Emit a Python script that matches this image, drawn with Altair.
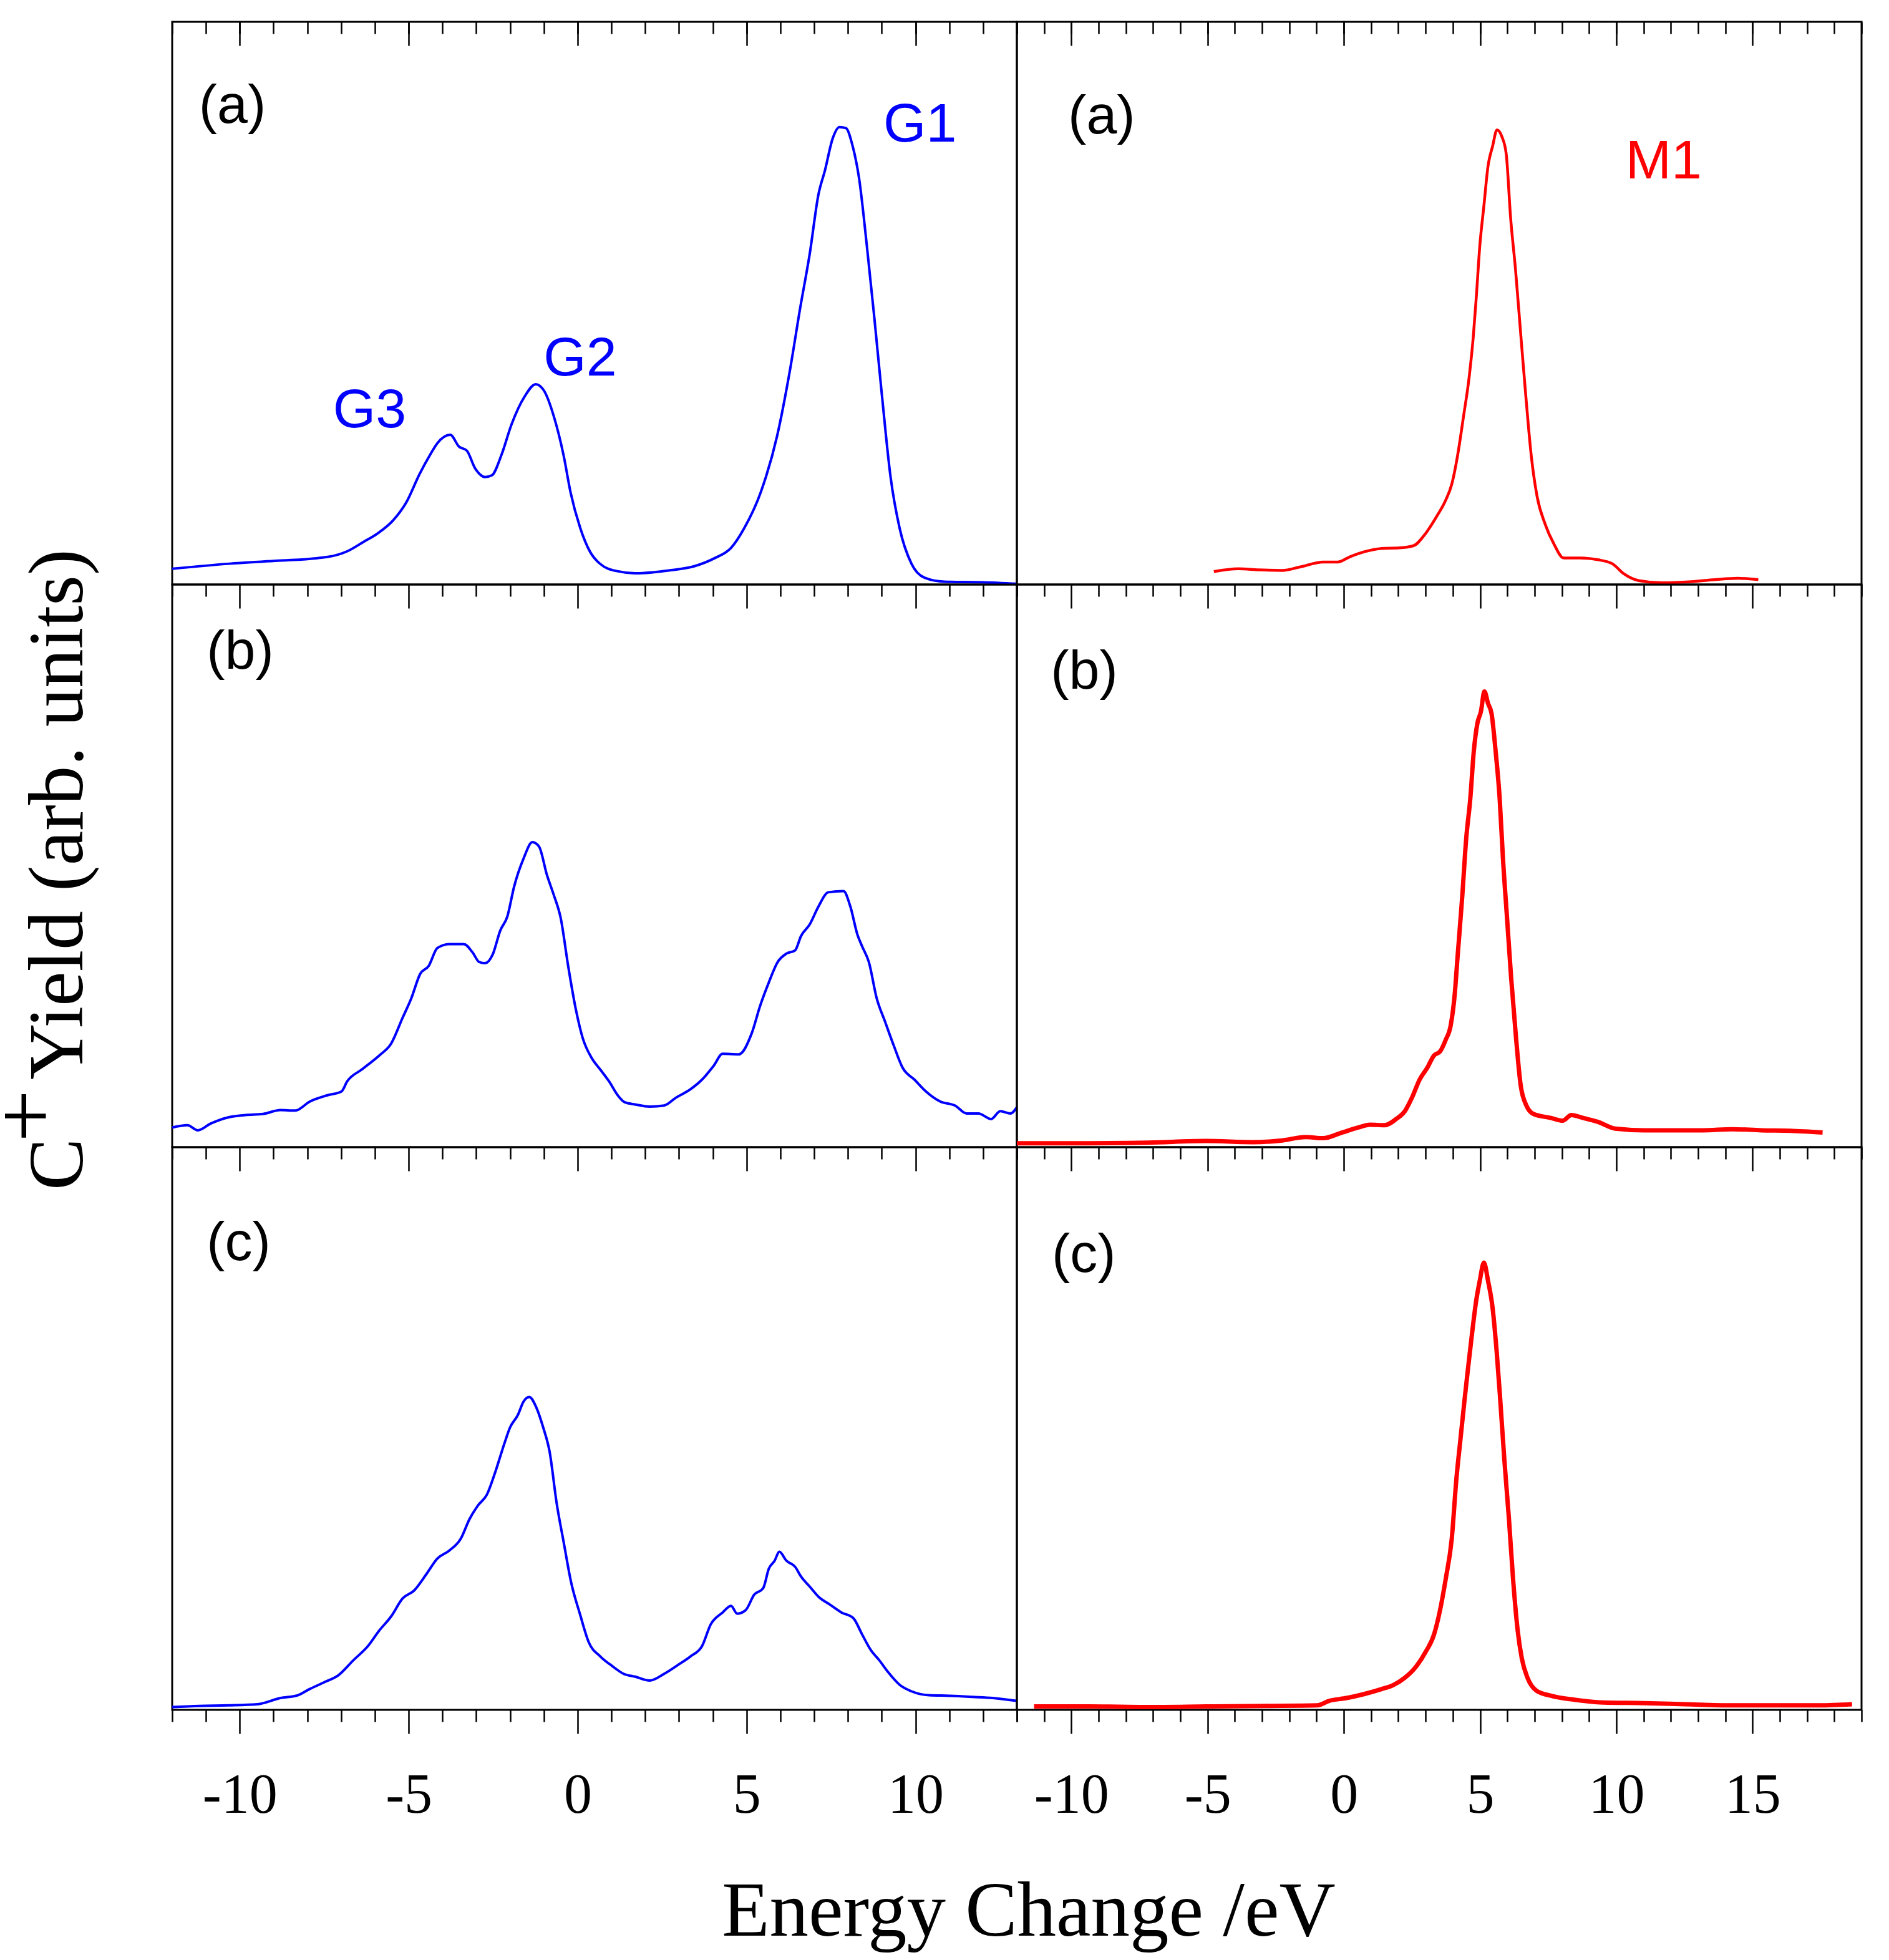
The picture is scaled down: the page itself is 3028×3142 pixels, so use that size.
import altair as alt
import pandas as pd

LEFT_DOMAIN = [-12, 13]
RIGHT_DOMAIN = [-12, 19]
W, H = 1354, 902
BLUE = "#0000FF"
RED = "#FF0000"

# ---- left column (blue) ----
LA_X = [-12.0, -10.3, -8.95, -7.4, -6.82, -6.33, -5.94, -5.46, -5.07, -4.68, -4.39, -4.14, -3.77, -3.51,
        -3.28, -3.03, -2.74, -2.54, -2.25, -1.96, -1.57, -1.24, -0.99, -0.70, -0.41, -0.21, 0.08, 0.37,
        0.66, 1.15, 1.73, 2.70, 3.48, 4.06, 4.54, 4.93, 5.42, 5.90, 6.29, 6.58, 6.87, 7.13, 7.32, 7.55,
        7.75, 7.94, 8.14, 8.33, 8.56, 8.78, 9.01, 9.26, 9.53, 9.88, 10.27, 10.85, 12.0, 13.0]
LA_Y = [0.028, 0.037, 0.042, 0.049, 0.059, 0.076, 0.090, 0.114, 0.146, 0.196, 0.228, 0.252, 0.266, 0.245,
        0.238, 0.206, 0.191, 0.194, 0.231, 0.284, 0.334, 0.356, 0.344, 0.298, 0.228, 0.164, 0.100, 0.058,
        0.037, 0.024, 0.020, 0.025, 0.033, 0.047, 0.065, 0.100, 0.164, 0.263, 0.383, 0.489, 0.588, 0.694,
        0.736, 0.793, 0.813, 0.811, 0.779, 0.722, 0.602, 0.475, 0.334, 0.192, 0.100, 0.037, 0.012, 0.005,
        0.004, 0.0014]

LB_X = [-12.0, -11.55, -11.24, -10.86, -10.34, -9.83, -9.31, -8.8, -8.36, -7.93, -7.42, -6.99, -6.82,
        -6.39, -5.87, -5.52, -5.18, -4.92, -4.66, -4.41, -4.15, -3.8, -3.37, -3.12, -2.91, -2.74, -2.51,
        -2.29, -2.08, -1.88, -1.6, -1.34, -1.14, -0.91, -0.71, -0.5, -0.28, -0.05, 0.15, 0.41, 0.67, 0.93,
        1.19, 1.39, 1.7, 2.13, 2.56, 2.91, 3.34, 3.68, 4.03, 4.29, 4.77, 5.15, 5.40, 5.66, 5.92, 6.18, 6.44,
        6.61, 6.87, 7.13, 7.42, 7.87, 8.07, 8.28, 8.42, 8.62, 8.85, 9.1, 9.36, 9.62, 9.97, 10.31, 10.74,
        11.17, 11.51, 11.86, 12.24, 12.51, 12.81, 13.0]
LB_Y = [0.035, 0.039, 0.030, 0.042, 0.053, 0.057, 0.059, 0.066, 0.065, 0.081, 0.092, 0.099, 0.117,
        0.138, 0.163, 0.184, 0.230, 0.265, 0.308, 0.322, 0.354, 0.361, 0.361, 0.347, 0.329, 0.327, 0.343,
        0.385, 0.410, 0.463, 0.513, 0.542, 0.534, 0.484, 0.449, 0.407, 0.322, 0.244, 0.194, 0.159, 0.138,
        0.117, 0.092, 0.080, 0.076, 0.072, 0.074, 0.088, 0.103, 0.120, 0.145, 0.166, 0.165, 0.202, 0.251,
        0.293, 0.329, 0.344, 0.350, 0.375, 0.396, 0.428, 0.453, 0.455, 0.428, 0.378, 0.357, 0.329, 0.265,
        0.223, 0.180, 0.141, 0.120, 0.099, 0.081, 0.074, 0.060, 0.060, 0.050, 0.064, 0.060, 0.071]

LC_X = [-12.0, -11.2, -10.34, -9.48, -8.8, -8.28, -7.93, -7.5, -7.07, -6.64, -6.21, -5.87, -5.52, -5.18,
        -4.84, -4.49, -4.15, -3.8, -3.46, -3.2, -2.94, -2.69, -2.43, -2.17, -2.0, -1.77, -1.6, -1.43, -1.22,
        -1.02, -0.83, -0.62, -0.41, -0.19, 0.07, 0.33, 0.67, 1.02, 1.36, 1.7, 2.13, 2.56, 3.0, 3.34, 3.68,
        3.94, 4.29, 4.54, 4.72, 4.97, 5.23, 5.49, 5.66, 5.83, 5.97, 6.18, 6.44, 6.61, 6.87, 7.13, 7.47,
        7.81, 8.16, 8.42, 8.68, 8.93, 9.19, 9.54, 9.88, 10.4, 11.0, 11.69, 12.29, 12.98]
LC_Y = [0.005, 0.007, 0.008, 0.010, 0.021, 0.026, 0.037, 0.049, 0.062, 0.088, 0.113, 0.141, 0.166, 0.198,
        0.212, 0.240, 0.269, 0.283, 0.304, 0.339, 0.364, 0.382, 0.424, 0.473, 0.502, 0.524, 0.548, 0.556,
        0.537, 0.502, 0.459, 0.367, 0.297, 0.226, 0.170, 0.120, 0.095, 0.078, 0.064, 0.059, 0.052, 0.064,
        0.081, 0.095, 0.113, 0.152, 0.173, 0.185, 0.171, 0.177, 0.205, 0.216, 0.251, 0.265, 0.281, 0.265,
        0.254, 0.237, 0.219, 0.201, 0.187, 0.173, 0.163, 0.134, 0.106, 0.088, 0.067, 0.044, 0.033, 0.026,
        0.025, 0.023, 0.021, 0.016]

# ---- right column (red) ----
RA_X = [-4.77, -3.87, -3.12, -2.26, -1.62, -0.76, -0.22, 0.21, 0.74, 1.39, 2.03, 2.56, 2.99, 3.42, 3.74,
        3.96, 4.17, 4.39, 4.6, 4.75, 4.86, 4.99, 5.14, 5.29, 5.46, 5.62, 5.8, 5.96, 6.12, 6.3, 6.5, 6.68,
        6.88, 7.09, 7.39, 7.71, 8.07, 8.68, 9.32, 9.85, 10.28, 10.82, 11.68, 12.75, 13.6, 14.46, 15.21]
RA_Y = [0.023, 0.028, 0.026, 0.025, 0.031, 0.040, 0.040, 0.049, 0.058, 0.064, 0.065, 0.069, 0.090, 0.122,
        0.150, 0.178, 0.228, 0.298, 0.369, 0.440, 0.510, 0.602, 0.673, 0.743, 0.779, 0.808, 0.796, 0.765,
        0.652, 0.560, 0.440, 0.334, 0.228, 0.157, 0.107, 0.072, 0.047, 0.047, 0.044, 0.037, 0.019, 0.007,
        0.003, 0.005, 0.0085, 0.011, 0.0085]

RB_X = [-12.0, -9.34, -7.19, -5.05, -3.33, -2.26, -1.4, -0.76, -0.12, 0.53, 0.96, 1.49, 1.92, 2.24, 2.5,
        2.78, 3.06, 3.31, 3.53, 3.74, 3.92, 4.07, 4.17, 4.34, 4.49, 4.64, 4.77, 4.9, 5.03, 5.16, 5.29, 5.42,
        5.57, 5.72, 5.84, 5.99, 6.14, 6.32, 6.49, 6.7, 6.96, 7.6, 8.03, 8.35, 8.78, 9.32, 9.96, 11.03,
        12.11, 13.18, 14.25, 15.32, 16.39, 17.57]
RB_Y = [0.007, 0.007, 0.008, 0.011, 0.009, 0.012, 0.018, 0.016, 0.025, 0.035, 0.040, 0.039, 0.050, 0.064,
        0.088, 0.120, 0.141, 0.163, 0.170, 0.191, 0.216, 0.272, 0.336, 0.442, 0.548, 0.619, 0.704, 0.753,
        0.774, 0.810, 0.789, 0.771, 0.704, 0.619, 0.513, 0.407, 0.301, 0.194, 0.110, 0.074, 0.059, 0.052,
        0.047, 0.057, 0.052, 0.045, 0.033, 0.030, 0.030, 0.030, 0.032, 0.030, 0.029, 0.026]

RC_X = [-11.37, -9.34, -7.19, -5.05, -2.9, -0.97, -0.54, 0.1, 0.74, 1.39, 1.81, 2.24, 2.67, 2.99, 3.31,
        3.53, 3.74, 3.96, 4.13, 4.28, 4.43, 4.56, 4.71, 4.86, 4.99, 5.14, 5.29, 5.46, 5.61, 5.74, 5.89,
        6.06, 6.21, 6.38, 6.53, 6.74, 7.07, 7.6, 8.46, 9.53, 11.03, 12.53, 14.25, 15.96, 17.47, 18.65]
RC_Y = [0.006, 0.006, 0.005, 0.006, 0.007, 0.008, 0.016, 0.021, 0.028, 0.037, 0.044, 0.057, 0.078, 0.102,
        0.134, 0.177, 0.233, 0.304, 0.410, 0.481, 0.551, 0.608, 0.671, 0.728, 0.763, 0.795, 0.763, 0.714,
        0.636, 0.551, 0.445, 0.339, 0.233, 0.141, 0.092, 0.057, 0.034, 0.025, 0.018, 0.013, 0.012, 0.010,
        0.008, 0.008, 0.008, 0.010]

# ---- annotations (data coordinates) ----
G_TEXT = ["G1", "G2", "G3"]
G_X = [9.05, -1.01, -7.24]
G_Y = [0.787, 0.371, 0.279]
M_TEXT = ["M1"]
M_X = [10.34]
M_Y = [0.722]
TAG_LEFT = {"a": (-11.21, 0.820), "b": (-10.98, 0.850), "c": (-10.98, 0.799)}
TAG_RIGHT = {"a": (-10.12, 0.802), "b": (-10.76, 0.815), "c": (-10.72, 0.778)}

Y_TITLE_MAIN = "Yield (arb. units)"
Y_TITLE_C = "C"
Y_TITLE_SUP = "+"
X_TITLE = "Energy Change /eV"

SERIF = "Liberation Serif"
SANS = "Liberation Sans"
TICK_COND = {"condition": {"test": "datum.value % 5 === 0", "value": 38}, "value": 19}
YS = alt.Scale(domain=[0, 1], nice=False, zero=False)


def xscale(dom):
    return alt.Scale(domain=dom, nice=False, zero=False)


def ints(dom):
    return list(range(dom[0], dom[1] + 1))


def fives(dom):
    return [v for v in ints(dom) if v % 5 == 0]


def bottom_axis(dom, labels):
    kw = dict(orient="bottom", values=ints(dom), tickSize=TICK_COND, domain=False, grid=False,
              title=None, labels=labels)
    if labels:
        kw.update(labelExpr="datum.value % 5 === 0 ? '' + datum.value : ''", labelFont=SERIF,
                  labelFontSize=90, labelPadding=55, labelColor="black", labelOverlap=False,
                  labelFlush=False)
    return alt.Axis(**kw)


def top_axis(vals, size):
    return alt.Axis(orient="top", values=vals, tickSize=size, offset=-size, domain=False, grid=False,
                    labels=False, title=None)


def line_layer(xs, ys, dom, color, sw, axis):
    df = pd.DataFrame({"x": xs, "y": ys})
    return alt.Chart(df).mark_line(color=color, strokeWidth=sw, interpolate="monotone").encode(
        x=alt.X("x:Q", scale=xscale(dom), axis=axis),
        y=alt.Y("y:Q", scale=YS, axis=None),
    )


def text_layer(xs, ys, texts, dom, color, axis):
    df = pd.DataFrame({"x": xs, "y": ys, "t": texts})
    return alt.Chart(df).mark_text(font=SANS, fontSize=88, align="left", baseline="alphabetic",
                                   color=color).encode(
        x=alt.X("x:Q", scale=xscale(dom), axis=axis),
        y=alt.Y("y:Q", scale=YS, axis=None),
        text="t:N",
    )


def pixel_text(text, px, py, angle=0, align="left", baseline="alphabetic", size=125):
    df = pd.DataFrame({"t": [text]})
    kw = dict(font=SERIF, fontSize=size, align=align, baseline=baseline, color="black")
    if angle:
        kw["angle"] = angle
    return alt.Chart(df).mark_text(**kw).encode(x=alt.value(px), y=alt.value(py), text="t:N")


def tag(key, pos, dom, axis):
    return text_layer([pos[key][0]], [pos[key][1]], ["(%s)" % key], dom, "black", axis)


# Row a
la = alt.layer(
    line_layer(LA_X, LA_Y, LEFT_DOMAIN, BLUE, 4, bottom_axis(LEFT_DOMAIN, False)),
    tag("a", TAG_LEFT, LEFT_DOMAIN, top_axis(fives(LEFT_DOMAIN), 38)),
    text_layer(G_X, G_Y, G_TEXT, LEFT_DOMAIN, BLUE, top_axis(ints(LEFT_DOMAIN), 19)),
).resolve_axis(x="independent").properties(width=W, height=H)

ra = alt.layer(
    line_layer(RA_X, RA_Y, RIGHT_DOMAIN, RED, 4.5, bottom_axis(RIGHT_DOMAIN, False)),
    tag("a", TAG_RIGHT, RIGHT_DOMAIN, top_axis(fives(RIGHT_DOMAIN), 38)),
    text_layer(M_X, M_Y, M_TEXT, RIGHT_DOMAIN, RED, top_axis(ints(RIGHT_DOMAIN), 19)),
).resolve_axis(x="independent").properties(width=W, height=H)

# Row b
lb = alt.layer(
    line_layer(LB_X, LB_Y, LEFT_DOMAIN, BLUE, 4, bottom_axis(LEFT_DOMAIN, False)),
    tag("b", TAG_LEFT, LEFT_DOMAIN, None),
    pixel_text(Y_TITLE_MAIN, -144, 794, angle=270),
    pixel_text(Y_TITLE_C, -144, 971, angle=270),
    pixel_text(Y_TITLE_SUP, -233, 852, angle=270, align="center", baseline="middle", size=150),
).resolve_axis(x="independent").properties(width=W, height=H)

rb = alt.layer(
    line_layer(RB_X, RB_Y, RIGHT_DOMAIN, RED, 7, bottom_axis(RIGHT_DOMAIN, False)),
    tag("b", TAG_RIGHT, RIGHT_DOMAIN, None),
).resolve_axis(x="independent").properties(width=W, height=H)

# Row c
lc = alt.layer(
    line_layer(LC_X, LC_Y, LEFT_DOMAIN, BLUE, 4, bottom_axis(LEFT_DOMAIN, True)),
    tag("c", TAG_LEFT, LEFT_DOMAIN, None),
    pixel_text(X_TITLE, 1373, 1264, align="center"),
).resolve_axis(x="independent").properties(width=W, height=H)

rc = alt.layer(
    line_layer(RC_X, RC_Y, RIGHT_DOMAIN, RED, 7, bottom_axis(RIGHT_DOMAIN, True)),
    tag("c", TAG_RIGHT, RIGHT_DOMAIN, None),
).resolve_axis(x="independent").properties(width=W, height=H)

chart = alt.concat(la, ra, lb, rb, lc, rc, columns=2, spacing=0, bounds="flush").properties(
    padding={"left": -42, "top": 24, "right": 5, "bottom": 5}
).configure_view(stroke="black", strokeWidth=3).configure_axis(
    tickColor="black", tickWidth=2.5
)

chart.save("out.html", embed_options={"renderer": "svg", "actions": False})
